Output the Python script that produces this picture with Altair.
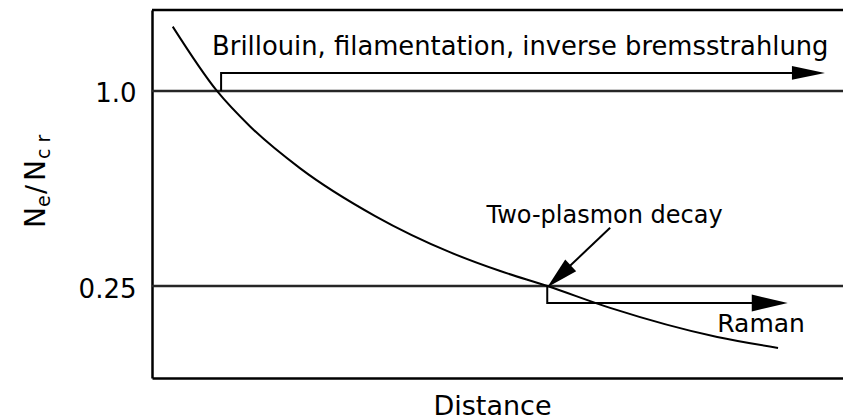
import altair as alt
import pandas as pd

FONT = "DejaVu Sans"

# Electron density profile (normalised to critical density) versus distance
distance = [0.30, 0.94, 1.42, 2.14, 3.23, 4.31, 5.04, 5.72, 6.63, 8.18, 9.06]
density = [1.58, 1.00, 0.777, 0.578, 0.411, 0.318, 0.278, 0.25, 0.214, 0.174, 0.161]

# Density thresholds and their axis labels
thresholds = [1.0, 0.25]
threshold_labels = ["1.0", "0.25"]

# Annotation arrows (data units)
brillouin_x = [1.0, 1.0, 9.38]
brillouin_y = [1.0, 1.137, 1.137]
raman_x = [5.72, 5.72, 8.80]
raman_y = [0.25, 0.2216, 0.2216]
plasmon_x = [6.63, 5.89]
plasmon_y = [0.378, 0.268]

# Arrowhead centres (data units)
brillouin_head = (9.50, 1.137)
raman_head = (8.94, 0.2216)
plasmon_head = (5.89, 0.268)

# Annotation texts and anchors
brillouin_text = "Brillouin, filamentation, inverse bremsstrahlung"
brillouin_pos = (0.87, 1.291)
plasmon_text = "Two-plasmon decay"
plasmon_pos = (6.55, 0.391)
raman_text = "Raman"
raman_pos = (8.18, 0.180)

W, H = 691, 368

xs = alt.Scale(domain=[0, 10], nice=False, zero=False)
ys = alt.Scale(type="log", domain=[0.13, 1.778], nice=False)

label_expr = " : ".join(
    f"datum.value == {v} ? '{t}'" for v, t in zip(thresholds, threshold_labels)
) + " : ''"

curve_df = pd.DataFrame({"distance": distance, "density": density})

curve = alt.Chart(curve_df).mark_line(
    color="black", strokeWidth=2, interpolate="monotone"
).encode(
    x=alt.X(
        "distance:Q", scale=xs,
        axis=alt.Axis(
            title="Distance", labels=False, ticks=False, grid=False,
            domain=True, domainColor="black", domainWidth=2.5,
            titleFont=FONT, titleFontSize=27, titleFontWeight="normal",
            titleColor="black", titleY=36, titleX=340, titleAlign="center",
            titleBaseline="alphabetic",
        ),
    ),
    y=alt.Y(
        "density:Q", scale=ys,
        axis=alt.Axis(
            title="", values=thresholds, labelExpr=label_expr, ticks=False,
            grid=False, domain=True, domainColor="black", domainWidth=2.5,
            labelFont=FONT, labelFontSize=26, labelColor="black",
            labelPadding=16, labelBaseline="middle", labelOffset=3,
        ),
    ),
)

# Horizontal threshold lines across the plot
thr = alt.Chart(pd.DataFrame({"t": thresholds})).mark_rule(
    color="#262626", strokeWidth=2.5
).encode(y=alt.Y("t:Q", scale=ys))

# Top edge of the frame
top = alt.Chart(pd.DataFrame({"k": [0]})).mark_rule(
    color="black", strokeWidth=2.5
).encode(y=alt.value(0), x=alt.value(0), x2=alt.value(W))

# Arrow shafts
rows = []
for name, px, py in [("brillouin", brillouin_x, brillouin_y),
                     ("raman", raman_x, raman_y),
                     ("plasmon", plasmon_x, plasmon_y)]:
    for i, (a, b) in enumerate(zip(px, py)):
        rows.append({"seg": name, "i": i, "x": a, "y": b})
shafts = alt.Chart(pd.DataFrame(rows)).mark_line(
    color="black", strokeWidth=2, strokeJoin="miter"
).encode(
    x=alt.X("x:Q", scale=xs), y=alt.Y("y:Q", scale=ys),
    detail="seg:N", order="i:Q",
)


def head(pos, size, angle, spread):
    shape = f"M -1 -{spread} L 1 0 L -1 {spread} Z"
    return alt.Chart(pd.DataFrame({"x": [pos[0]], "y": [pos[1]]})).mark_point(
        shape=shape, filled=True, color="black", opacity=1,
        size=size, angle=angle, strokeWidth=0,
    ).encode(x=alt.X("x:Q", scale=xs), y=alt.Y("y:Q", scale=ys))


heads = [
    head(brillouin_head, 1089, 0, 0.42),
    head(raman_head, 1296, 0, 0.47),
    head(plasmon_head, 1024, 137, 0.5),
]


def label(text, pos, size, align):
    return alt.Chart(pd.DataFrame({"x": [pos[0]], "y": [pos[1]]})).mark_text(
        text=text, font=FONT, fontSize=size, color="black", align=align,
        baseline="alphabetic",
    ).encode(x=alt.X("x:Q", scale=xs), y=alt.Y("y:Q", scale=ys))


labels = [
    label(brillouin_text, brillouin_pos, 25.8, "left"),
    label(plasmon_text, plasmon_pos, 24, "center"),
    label(raman_text, raman_pos, 25, "left"),
]

# Vertical axis title N_e / N_cr built from pieces (subscripts smaller, lowered)
one = pd.DataFrame({"k": [0]})


def title_piece(text, x, y, size):
    return alt.Chart(one).mark_text(
        text=text, font=FONT, fontSize=size, color="black", angle=270,
        align="left", baseline="alphabetic",
    ).encode(x=alt.value(x), y=alt.value(y))


ytitle = [
    title_piece("N", -107, 218, 28),
    title_piece("e", -102, 197, 19),
    title_piece("/", -107, 184, 27),
    title_piece("N", -107, 171, 28),
    title_piece("c r", -102, 149, 19),
]

chart = alt.layer(
    thr, top, curve, shafts, *heads, *labels, *ytitle
).properties(
    width=W, height=H,
    autosize=alt.AutoSizeParams(type="none"),
    padding={"left": 152, "top": 10, "right": 0, "bottom": 41},
    background="white",
).configure_view(stroke=None)

chart.save("out.html", embed_options={"renderer": "svg", "actions": False})
